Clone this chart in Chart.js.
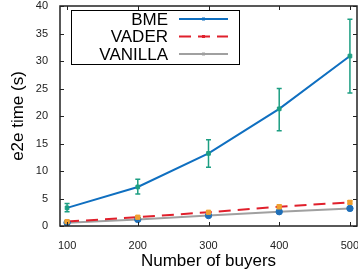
<!DOCTYPE html>
<html>
<head>
<meta charset="utf-8">
<script src="https://cdn.jsdelivr.net/npm/chart.js@4.4.1/dist/chart.umd.min.js"></script>
<style>
  html, body { margin: 0; padding: 0; overflow: hidden; background: #fff; }
  #wrap { width: 362px; height: 278px; }
</style>
</head>
<body>
<div id="wrap"><canvas id="c"></canvas></div>
<script>
const buyers = [100, 200, 300, 400, 500];
const xTicks = [100, 200, 300, 400, 500];
const yTicks = [0, 5, 10, 15, 20, 25, 30, 35, 40];

const bme = [3.3, 7.1, 13.2, 21.3, 30.9];
const bmeLow = [2.6, 5.8, 10.7, 17.3, 24.2];
const bmeHigh = [4.1, 8.5, 15.7, 25.0, 37.6];

const vader = [0.8, 1.6, 2.5, 3.5, 4.3];
const vaderLow = [0.7, 1.4, 2.3, 3.2, 4.0];
const vaderHigh = [0.9, 1.8, 2.7, 3.8, 4.6];

const vanilla = [0.6, 1.2, 1.9, 2.6, 3.2];

const FONT = 'Liberation Sans, Arial, sans-serif';

function pts(ys) {
  return buyers.map((x, i) => ({ x: x, y: ys[i] }));
}

// inward ticks, frame, error bars and the boxed legend
const gnuplotLook = {
  id: 'gnuplotLook',
  afterDatasetsDraw(chart) {
    const ctx = chart.ctx;
    const xs = chart.scales.x, ys = chart.scales.y;
    chart.data.datasets.forEach((ds, di) => {
      if (!ds.errLow) return;
      ctx.save();
      ctx.strokeStyle = ds.errColor;
      ctx.lineWidth = 1.5;
      ds.data.forEach((p, i) => {
        const px = xs.getPixelForValue(p.x);
        const lo = ys.getPixelForValue(ds.errLow[i]);
        const hi = ys.getPixelForValue(ds.errHigh[i]);
        ctx.beginPath();
        ctx.moveTo(px, lo); ctx.lineTo(px, hi);
        ctx.moveTo(px - 2.5, lo); ctx.lineTo(px + 2.5, lo);
        ctx.moveTo(px - 2.5, hi); ctx.lineTo(px + 2.5, hi);
        ctx.stroke();
      });
      ctx.restore();
    });
  },
  afterDraw(chart) {
    const ctx = chart.ctx;
    const a = chart.chartArea;
    const xs = chart.scales.x, ys = chart.scales.y;
    ctx.save();
    ctx.strokeStyle = '#222';
    ctx.lineWidth = 1.5;
    ctx.strokeRect(a.left, a.top, a.right - a.left, a.bottom - a.top);
    ctx.lineWidth = 1;
    ctx.beginPath();
    yTicks.forEach(v => {
      const py = Math.round(ys.getPixelForValue(v)) + 0.5;
      ctx.moveTo(a.left, py); ctx.lineTo(a.left + 4, py);
      ctx.moveTo(a.right, py); ctx.lineTo(a.right - 4, py);
    });
    xTicks.forEach(v => {
      const px = Math.round(xs.getPixelForValue(v)) + 0.5;
      ctx.moveTo(px, a.bottom); ctx.lineTo(px, a.bottom - 4);
      ctx.moveTo(px, a.top); ctx.lineTo(px, a.top + 4);
    });
    ctx.stroke();

    // legend
    const bx = 71, by = 10, bw = 168, bh = 54;
    ctx.lineWidth = 1;
    ctx.strokeStyle = '#000';
    ctx.strokeRect(bx + 0.5, by + 0.5, bw, bh);
    ctx.font = '17px ' + FONT;
    ctx.fillStyle = '#000';
    ctx.textAlign = 'right';
    ctx.textBaseline = 'middle';
    const rows = chart.data.datasets.filter(d => d.inLegend);
    rows.forEach((ds, i) => {
      const ry = 19 + i * 17.5;
      ctx.fillText(ds.label, 168, ry + 1);
      ctx.save();
      ctx.strokeStyle = ds.borderColor;
      ctx.lineWidth = ds.borderWidth;
      ctx.setLineDash(ds.borderDash || []);
      ctx.beginPath();
      ctx.moveTo(179, ry); ctx.lineTo(228, ry);
      ctx.stroke();
      ctx.setLineDash([]);
      ctx.fillStyle = ds.borderColor;
      ctx.fillRect(202, ry - 1.5, 3, 3);
      ctx.restore();
    });
    ctx.restore();
  }
};

new Chart(document.getElementById('c'), {
  type: 'scatter',
  data: {
    datasets: [
      {
        label: 'BME', data: pts(bme), showLine: true, inLegend: true,
        borderColor: '#0f6fc0', backgroundColor: '#0f6fc0', borderWidth: 2,
        pointRadius: 0, order: 2,
        errLow: bmeLow, errHigh: bmeHigh, errColor: '#1c9e82'
      },
      {
        label: 'VADER', data: pts(vader), showLine: true, inLegend: true,
        borderColor: '#e0202c', backgroundColor: '#e0202c', borderWidth: 2,
        borderDash: [12, 7], pointRadius: 0, order: 3,
        errLow: vaderLow, errHigh: vaderHigh, errColor: '#f0a030'
      },
      {
        label: 'VANILLA', data: pts(vanilla), showLine: true, inLegend: true,
        borderColor: '#a0a0a0', backgroundColor: '#a0a0a0', borderWidth: 2,
        pointRadius: 0, order: 4
      },
      {
        label: 'BME pts', data: pts(bme), showLine: false,
        pointStyle: 'rect', pointRadius: 2.6, backgroundColor: '#1c9e82', borderColor: '#1c9e82', order: 1
      },
      {
        label: 'VADER pts', data: pts(vader), showLine: false,
        pointStyle: 'rect', pointRadius: 3, backgroundColor: '#f0a030', borderColor: '#f0a030', order: 1
      },
      {
        label: 'VANILLA pts', data: pts(vanilla), showLine: false,
        pointStyle: 'circle', pointRadius: 3.2, backgroundColor: '#1f6fb8', borderColor: '#1f6fb8', order: 1
      }
    ]
  },
  options: {
    responsive: true,
    maintainAspectRatio: false,
    animation: false,
    layout: { padding: { top: 6, right: 3, left: 0, bottom: 0 } },
    plugins: { legend: { display: false }, tooltip: { enabled: false } },
    scales: {
      x: {
        type: 'linear', min: 90, max: 510,
        afterBuildTicks: s => { s.ticks = xTicks.map(v => ({ value: v })); },
        afterFit: s => { s.height = 52; s.paddingLeft = 0; s.paddingRight = 0; },
        grid: { display: false, drawTicks: false },
        border: { display: false },
        ticks: { color: '#222', font: { family: FONT, size: 11 }, padding: 13, maxRotation: 0 },
        title: { display: true, text: 'Number of buyers', color: '#000', font: { family: FONT, size: 17 }, padding: { top: 0, bottom: 6 } }
      },
      y: {
        min: 0, max: 40,
        afterBuildTicks: s => { s.ticks = yTicks.map(v => ({ value: v })); },
        afterFit: s => { s.width = 60; s.paddingTop = 0; s.paddingBottom = 0; },
        grid: { display: false, drawTicks: false },
        border: { display: false },
        ticks: { color: '#222', font: { family: FONT, size: 11 }, padding: 12 },
        title: { display: true, text: 'e2e time (s)', color: '#000', font: { family: FONT, size: 17 }, padding: { top: 8, bottom: 0 } }
      }
    }
  },
  plugins: [gnuplotLook]
});
</script>
</body>
</html>
